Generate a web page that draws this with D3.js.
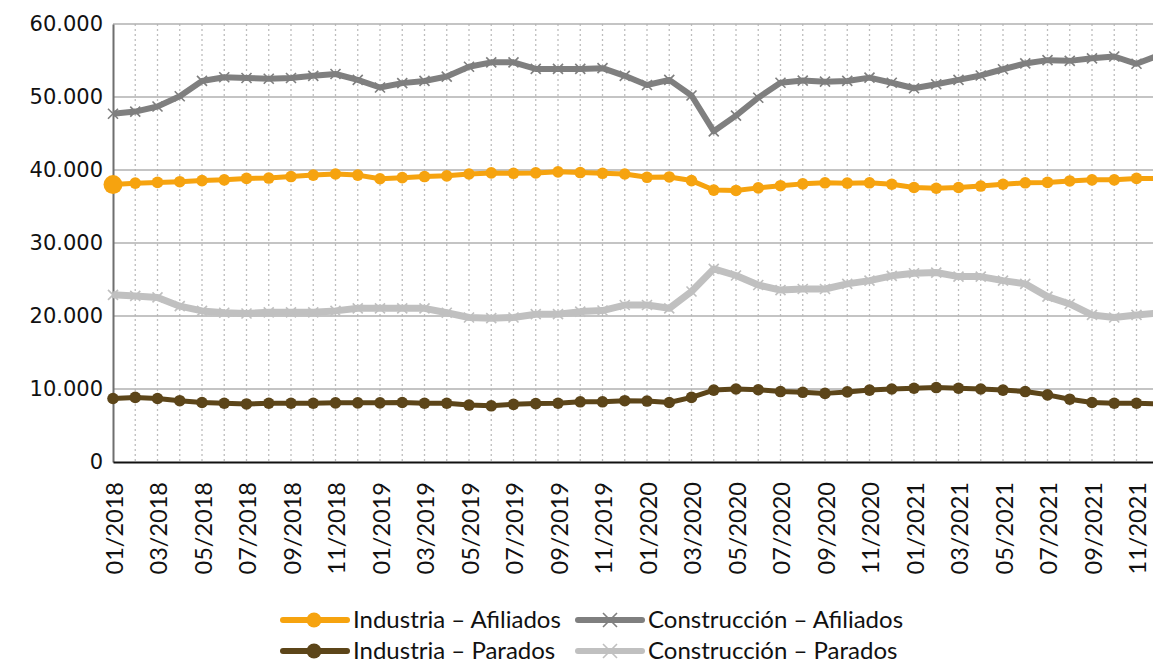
<!DOCTYPE html>
<html>
<head>
<meta charset="utf-8">
<script src="https://cdn.jsdelivr.net/npm/d3@7"></script>
<style>
  html, body { margin: 0; padding: 0; background: #fff; }
  svg { display: block; }
</style>
</head>
<body>
<svg id="chart" width="1153" height="665"></svg>
<script>
// Monthly categories (01/2018 – 12/2021)
const months = [
  "01/2018","02/2018","03/2018","04/2018","05/2018","06/2018","07/2018","08/2018","09/2018","10/2018","11/2018","12/2018",
  "01/2019","02/2019","03/2019","04/2019","05/2019","06/2019","07/2019","08/2019","09/2019","10/2019","11/2019","12/2019",
  "01/2020","02/2020","03/2020","04/2020","05/2020","06/2020","07/2020","08/2020","09/2020","10/2020","11/2020","12/2020",
  "01/2021","02/2021","03/2021","04/2021","05/2021","06/2021","07/2021","08/2021","09/2021","10/2021","11/2021","12/2021"
];

// Series values
const industriaAfiliados = [
  38000,38200,38300,38400,38550,38650,38850,38900,39100,39300,39450,39300,
  38800,38950,39100,39200,39450,39600,39550,39600,39750,39650,39550,39450,
  39000,39050,38550,37250,37200,37550,37850,38100,38250,38200,38250,38050,
  37600,37500,37600,37800,38050,38250,38300,38500,38650,38650,38850,38850
];
const construccionAfiliados = [
  47700,48000,48700,50100,52200,52700,52600,52500,52600,52900,53150,52350,
  51300,51900,52200,52800,54150,54750,54750,53850,53850,53850,53950,52900,
  51650,52350,50200,45300,47450,49900,51950,52250,52100,52200,52650,51950,
  51200,51750,52350,52950,53800,54600,55050,54950,55300,55550,54550,55700
];
const industriaParados = [
  8700,8850,8700,8400,8150,8050,7950,8050,8050,8050,8100,8100,
  8100,8150,8050,8050,7800,7700,7900,8000,8050,8250,8250,8400,
  8350,8150,8850,9850,10000,9900,9650,9550,9400,9600,9850,10000,
  10100,10200,10100,10000,9850,9650,9200,8600,8150,8050,8050,7950
];
const construccionParados = [
  22900,22750,22550,21350,20700,20450,20350,20500,20500,20500,20700,21050,
  21050,21050,21050,20450,19800,19700,19800,20250,20250,20600,20750,21500,
  21500,21050,23350,26450,25550,24250,23550,23700,23700,24400,24850,25500,
  25850,25950,25400,25400,24850,24400,22650,21650,20150,19800,20150,20400
];

const yTicks = [0, 10000, 20000, 30000, 40000, 50000, 60000];
const seriesNames = ["Industria – Afiliados", "Construcción – Afiliados", "Industria – Parados", "Construcción – Parados"];

const series = [
  { name: seriesNames[1], values: construccionAfiliados, color: "#7f7f7f", width: 6, marker: "x" },
  { name: seriesNames[3], values: construccionParados, color: "#c0c0c0", width: 7, marker: "x" },
  { name: seriesNames[0], values: industriaAfiliados, color: "#f6a30f", width: 5, marker: "circle" },
  { name: seriesNames[2], values: industriaParados, color: "#5c4519", width: 5, marker: "circle" }
];

const svg = d3.select("#chart");
const plotLeft = 113, plotTop = 24, plotBottom = 462;
const step = 22.25;

const x = d3.scalePoint().domain(months).range([plotLeft, plotLeft + step * (months.length - 1)]);
const y = d3.scaleLinear().domain([0, 60000]).range([plotBottom, plotTop]);

svg.append("rect").attr("width", 1153).attr("height", 665).attr("fill", "#fff");

// Vertical dotted gridlines at each month
svg.append("g").selectAll("line").data(months.slice(1)).join("line")
  .attr("x1", d => x(d)).attr("x2", d => x(d))
  .attr("y1", plotTop).attr("y2", plotBottom)
  .attr("stroke", "#bdbdbd").attr("stroke-width", 1.3)
  .attr("stroke-dasharray", "2,3");

// Horizontal gridlines
svg.append("g").selectAll("line").data(yTicks.filter(d => d > 0)).join("line")
  .attr("x1", plotLeft).attr("x2", 1153)
  .attr("y1", d => y(d)).attr("y2", d => y(d))
  .attr("stroke", "#b0b0b0").attr("stroke-width", 1.6);

// Y axis
const fmt = d => d3.format(",")(d).replace(/,/g, ".");
const yAxis = svg.append("g").attr("transform", `translate(${plotLeft},0)`)
  .call(d3.axisLeft(y).tickValues(yTicks).tickFormat(fmt).tickSize(0).tickPadding(10));
yAxis.select(".domain").attr("stroke", "#6f6f6f").attr("stroke-width", 2);
yAxis.selectAll("text")
  .attr("font-family", "DejaVu Sans").attr("font-size", 21).attr("fill", "#111");

// X axis
const xAxis = svg.append("g").attr("transform", `translate(0,${plotBottom})`)
  .call(d3.axisBottom(x).tickValues(months.filter((d, i) => i % 2 === 0)).tickSize(0).tickPadding(0));
xAxis.select(".domain").attr("stroke", "#111").attr("stroke-width", 2);
xAxis.selectAll("text")
  .attr("font-family", "Lato").attr("font-size", 23.5).attr("fill", "#111")
  .attr("text-anchor", "end")
  .attr("dy", null)
  .attr("transform", "translate(0,20) rotate(-90)")
  .attr("x", 0).attr("y", 0)
  .attr("dominant-baseline", "central");

// Lines and markers
const line = d3.line().x((d, i) => x(months[i])).y(d => y(d));

function drawX(g, cx, cy, color, s) {
  g.append("path")
    .attr("d", `M${cx - s},${cy - s}L${cx + s},${cy + s}M${cx - s},${cy + s}L${cx + s},${cy - s}`)
    .attr("stroke", color).attr("stroke-width", 1.6).attr("fill", "none");
}

series.forEach(s => {
  const g = svg.append("g");
  g.append("path").datum(s.values)
    .attr("d", line).attr("fill", "none")
    .attr("stroke", s.color).attr("stroke-width", s.width)
    .attr("stroke-linejoin", "round");
  if (s.marker === "circle") {
    g.selectAll("circle").data(s.values).join("circle")
      .attr("cx", (d, i) => x(months[i])).attr("cy", d => y(d))
      .attr("r", (d, i) => (i === 0 && s.name === seriesNames[0]) ? 9.5 : 5.8)
      .attr("fill", s.color);
  } else {
    s.values.forEach((d, i) => drawX(g, x(months[i]), y(d), s.color, 5));
  }
});

// Legend (two rows of two entries)
const legendItems = [
  { name: seriesNames[0], color: "#f6a30f", marker: "circle", lx: 283, ly: 620, base: 628 },
  { name: seriesNames[1], color: "#7f7f7f", marker: "x", lx: 578, ly: 620, base: 628 },
  { name: seriesNames[2], color: "#5c4519", marker: "circle", lx: 283, ly: 651, base: 659 },
  { name: seriesNames[3], color: "#c0c0c0", marker: "x", lx: 578, ly: 651, base: 659 }
];
const lg = svg.append("g");
legendItems.forEach(it => {
  lg.append("line")
    .attr("x1", it.lx).attr("x2", it.lx + 64)
    .attr("y1", it.ly).attr("y2", it.ly)
    .attr("stroke", it.color).attr("stroke-width", 6).attr("stroke-linecap", "round");
  if (it.marker === "circle") {
    lg.append("circle").attr("cx", it.lx + 31).attr("cy", it.ly).attr("r", 7.5).attr("fill", it.color);
  } else {
    drawX(lg, it.lx + 32, it.ly, it.color, 7);
  }
  lg.append("text")
    .attr("x", it.lx + 70).attr("y", it.base)
    .attr("font-family", "Lato").attr("font-size", 24).attr("fill", "#111")
    .text(it.name);
});
</script>
</body>
</html>
